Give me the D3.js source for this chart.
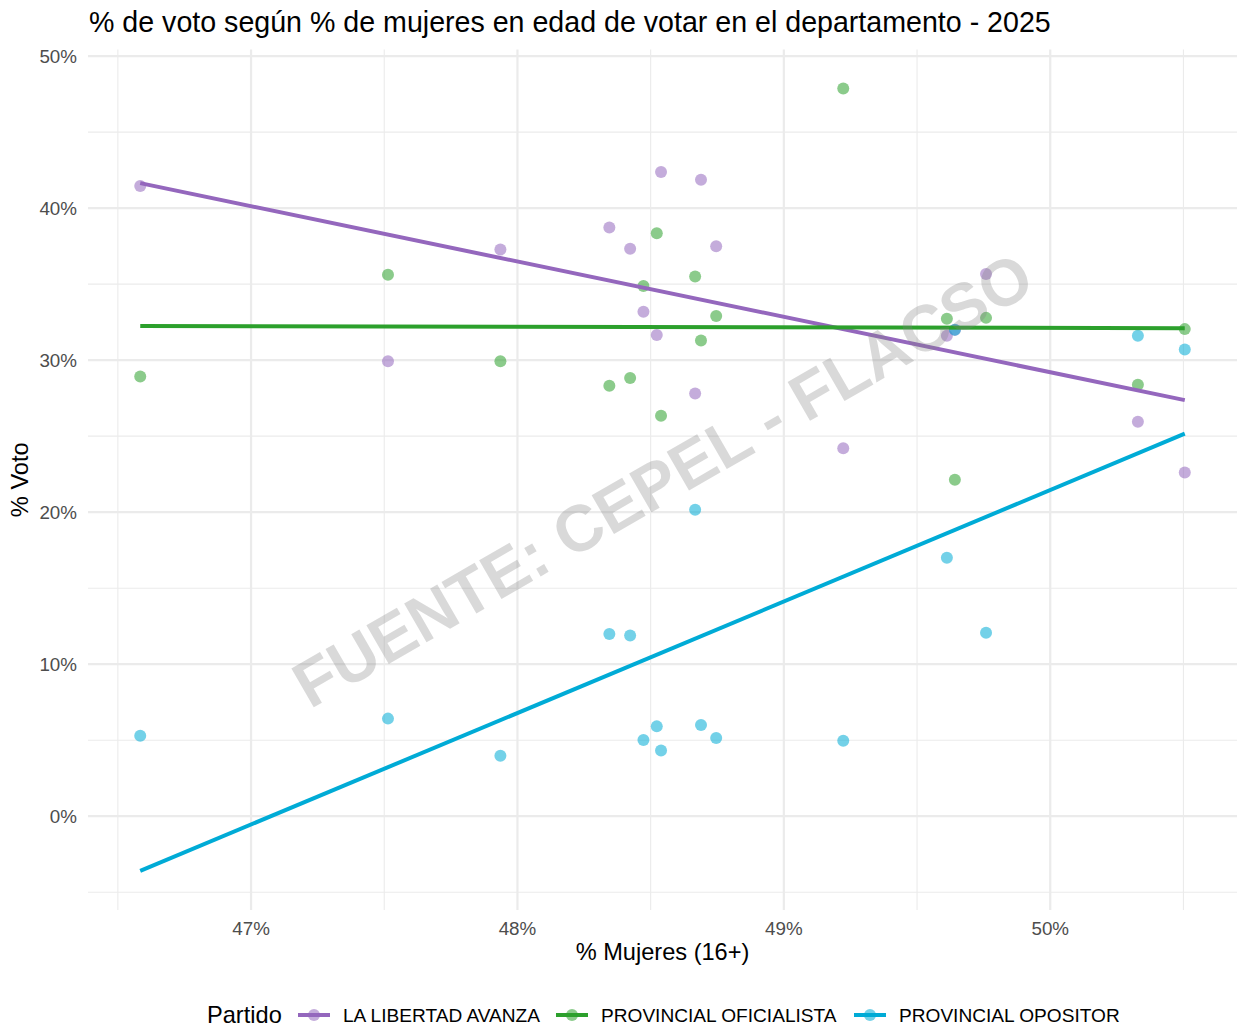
<!DOCTYPE html>
<html>
<head>
<meta charset="utf-8">
<script src="https://cdn.jsdelivr.net/npm/d3@7"></script>
<style>
  body { margin: 0; background: #fff; }
  svg text { font-family: "Liberation Sans", Arial, sans-serif; }
</style>
</head>
<body>
<svg id="chart"></svg>
<script>
// % mujeres 16+ por departamento
const mujeres = [46.584, 47.514, 47.936, 48.345, 48.423, 48.473, 48.523, 48.539, 48.667,
                 48.689, 48.746, 49.223, 49.612, 49.642, 49.759, 50.329, 50.505];
// % voto por partido (mismo orden de departamentos)
const lla         = [41.46, 29.93, 37.27, 38.72, 37.32, 33.18, 31.66, 42.38, 27.80,
                     41.87, 37.49, 24.21, 31.60, 31.99, 35.67, 25.94, 22.61];
const oficialista = [28.92, 35.61, 29.93, 28.31, 28.82, 34.88, 38.35, 26.34, 35.50,
                     31.29, 32.91, 47.86, 32.72, 22.13, 32.78, 28.38, 32.04];
const opositor    = [5.30, 6.42, 3.98, 11.99, 11.89, 5.02, 5.91, 4.33, 20.16,
                     6.00, 5.15, 4.97, 17.00, 32.00, 12.07, 31.60, 30.70];

const partidos = ['LA LIBERTAD AVANZA', 'PROVINCIAL OFICIALISTA', 'PROVINCIAL OPOSITOR'];
const colores  = ['#9467bd', '#2ca02c', '#00abd6'];
const xTicks = [47, 48, 49, 50];
const yTicks = [0, 10, 20, 30, 40, 50];

const W = 1241, H = 1027;
const m = { top: 49.5, right: 4, bottom: 117, left: 88 };

const series = [lla, oficialista, opositor].map((vals, i) => ({
  name: partidos[i],
  color: colores[i],
  pts: vals.map((v, j) => ({ x: mujeres[j], y: v }))
}));

// recta lm como geom_smooth(method = "lm", se = FALSE)
function fit(pts) {
  const mx = d3.mean(pts, d => d.x), my = d3.mean(pts, d => d.y);
  const sxy = d3.sum(pts, d => (d.x - mx) * (d.y - my));
  const sxx = d3.sum(pts, d => (d.x - mx) ** 2);
  const b = sxy / sxx, a = my - b * mx;
  const [x0, x1] = d3.extent(pts, d => d.x);
  return [{ x: x0, y: a + b * x0 }, { x: x1, y: a + b * x1 }];
}
series.forEach(s => s.line = fit(s.pts));

// escalas con expansión del 5% (ggplot)
function expand([a, b]) { const d = (b - a) * 0.05; return [a - d, b + d]; }
const allY = series.flatMap(s => s.pts.concat(s.line).map(d => d.y));

const x = d3.scaleLinear().domain(expand(d3.extent(mujeres))).range([m.left, W - m.right]);
const y = d3.scaleLinear().domain(expand(d3.extent(allY))).range([H - m.bottom, m.top]);

const svg = d3.select('#chart').attr('width', W).attr('height', H);
svg.append('rect').attr('width', W).attr('height', H).attr('fill', '#fff');

const [x0, x1] = x.range(), [y0, y1] = y.range();

// grilla menor
const xMinor = d3.range(46.5, 51, 1).filter(v => v > x.domain()[0] && v < x.domain()[1]);
const yMinor = d3.range(-5, 50, 10).filter(v => v > y.domain()[0] && v < y.domain()[1]);
const grid = svg.append('g');
grid.selectAll('.xm').data(xMinor).join('line')
  .attr('x1', d => x(d)).attr('x2', d => x(d)).attr('y1', y0).attr('y2', y1)
  .attr('stroke', '#ebebeb').attr('stroke-width', 1.1);
grid.selectAll('.ym').data(yMinor).join('line')
  .attr('y1', d => y(d)).attr('y2', d => y(d)).attr('x1', x0).attr('x2', x1)
  .attr('stroke', '#ebebeb').attr('stroke-width', 1.1);
// grilla mayor
grid.selectAll('.xM').data(xTicks).join('line')
  .attr('x1', d => x(d)).attr('x2', d => x(d)).attr('y1', y0).attr('y2', y1)
  .attr('stroke', '#ebebeb').attr('stroke-width', 2.2);
grid.selectAll('.yM').data(yTicks).join('line')
  .attr('y1', d => y(d)).attr('y2', d => y(d)).attr('x1', x0).attr('x2', x1)
  .attr('stroke', '#ebebeb').attr('stroke-width', 2.2);

// etiquetas de ejes
svg.append('g').selectAll('text').data(xTicks).join('text')
  .attr('x', d => x(d)).attr('y', 928).attr('dy', '0.35em')
  .attr('text-anchor', 'middle').attr('font-size', 18.8).attr('fill', '#4d4d4d')
  .text(d => d + '%');
svg.append('g').selectAll('text').data(yTicks).join('text')
  .attr('x', 77).attr('y', d => y(d)).attr('dy', '0.35em')
  .attr('text-anchor', 'end').attr('font-size', 18.8).attr('fill', '#4d4d4d')
  .text(d => d + '%');

svg.append('text').attr('x', (x0 + x1) / 2).attr('y', 952).attr('dy', '0.35em')
  .attr('text-anchor', 'middle').attr('font-size', 23.6).attr('fill', '#000')
  .text('% Mujeres (16+)');
svg.append('text').attr('transform', `translate(20,${(y0 + y1) / 2}) rotate(-90)`)
  .attr('dy', '0.35em').attr('text-anchor', 'middle').attr('font-size', 23.6).attr('fill', '#000')
  .text('% Voto');

svg.append('text').attr('x', 89).attr('y', 32)
  .attr('font-size', 28.6).attr('fill', '#000')
  .text('% de voto según % de mujeres en edad de votar en el departamento - 2025');

// puntos
series.forEach(s => {
  svg.append('g').selectAll('circle').data(s.pts).join('circle')
    .attr('cx', d => x(d.x)).attr('cy', d => y(d.y)).attr('r', 6)
    .attr('fill', s.color).attr('fill-opacity', 0.55);
});

// rectas
const line = d3.line().x(d => x(d.x)).y(d => y(d.y));
series.forEach(s => {
  svg.append('path').datum(s.line).attr('d', line)
    .attr('stroke', s.color).attr('stroke-width', 4).attr('fill', 'none');
});

// marca de agua
svg.append('text')
  .attr('transform', `translate(${(x0 + x1) / 2},${(y0 + y1) / 2}) rotate(-30)`)
  .attr('text-anchor', 'middle').attr('dy', '0.35em')
  .attr('font-size', 65).attr('font-weight', 'bold')
  .attr('fill', '#808080').attr('fill-opacity', 0.3)
  .text('FUENTE: CEPEL - FLACSO');

// leyenda
const leg = svg.append('g').attr('transform', 'translate(0,1015)');
leg.append('text').attr('x', 207).attr('dy', '0.35em').attr('font-size', 23.6).text('Partido');
const keyX = [298, 556, 854];
partidos.forEach((p, i) => {
  const g = leg.append('g').attr('transform', `translate(${keyX[i]},0)`);
  g.append('line').attr('x1', 0).attr('x2', 32)
    .attr('stroke', colores[i]).attr('stroke-width', 4);
  g.append('circle').attr('cx', 16).attr('r', 6)
    .attr('fill', colores[i]).attr('fill-opacity', 0.55);
  g.append('text').attr('x', 45).attr('dy', '0.35em')
    .attr('font-size', 19.1).attr('fill', '#000').text(p);
});
</script>
</body>
</html>
